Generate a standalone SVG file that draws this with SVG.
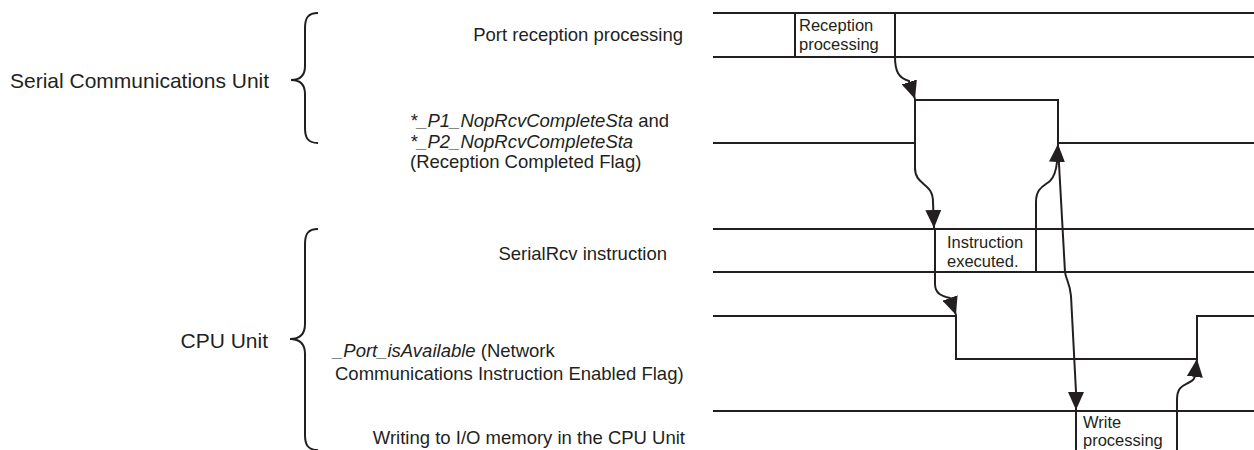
<svg xmlns="http://www.w3.org/2000/svg" width="1254" height="450" viewBox="0 0 1254 450">
<style>
text{font-family:"Liberation Sans",Arial,Helvetica,sans-serif;fill:#231f20;font-size:18.5px}
.big{font-size:21px}
.it{font-style:italic}
.bx{font-size:16.5px}
.ln{fill:none;stroke:#231f20;stroke-width:2}
.br{fill:none;stroke:#231f20;stroke-width:2}
.ar{fill:none;stroke:#231f20;stroke-width:2;marker-end:url(#ah)}
</style>
<defs>
<marker id="ah" viewBox="0 0 18 16" refX="18" refY="8" markerWidth="18" markerHeight="16" markerUnits="userSpaceOnUse" orient="auto">
<path d="M0,0 L18,8 L0,16 z" fill="#231f20"/>
</marker>
</defs>
<g id="unit-serial">
<text class="big" x="10" y="88">Serial Communications Unit</text>
<path class="br" d="M318,13 C308,13 305,18 305,28 L305,66 C305,76 300,80 291,80 C300,80 305,84 305,94 L305,128 C305,138 308,143 318,143"/>
</g>
<g id="unit-cpu">
<text class="big" x="268" y="348" text-anchor="end">CPU Unit</text>
<path class="br" d="M318,229 C308,229 305,234 305,244 L305,324 C305,334 300,339 290,339 C300,339 305,344 305,354 L305,435 C305,445 308,450 318,450"/>
</g>
<g id="row-port">
<text x="683" y="41" text-anchor="end">Port reception processing</text>
<path class="ln" d="M713,13 H1254 M713,57 H1254 M795,13 V57 M895,13 V57"/>
<text class="bx" x="799" y="31">Reception</text>
<text class="bx" x="799" y="50">processing</text>
</g>
<g id="row-flag">
<text x="410" y="127"><tspan class="it">*_P1_NopRcvCompleteSta</tspan> and</text>
<text x="410" y="148" class="it">*_P2_NopRcvCompleteSta</text>
<text x="410" y="168">(Reception Completed Flag)</text>
<path class="ln" d="M713,143 H915 V100 H1058 V143 H1254"/>
</g>
<g id="row-serialrcv">
<text x="667" y="260" text-anchor="end">SerialRcv instruction</text>
<path class="ln" d="M713,229 H1254 M713,272 H1254 M935,229 V272 M1036,229 V272"/>
<text class="bx" x="947" y="248">Instruction</text>
<text class="bx" x="947" y="267">executed.</text>
</g>
<g id="row-available">
<text x="333" y="357"><tspan class="it">_Port_isAvailable</tspan> (Network</text>
<text x="335" y="380">Communications Instruction Enabled Flag)</text>
<path class="ln" d="M713,316 H956 V359 H1197 V316 H1254"/>
</g>
<g id="row-write">
<text x="685" y="444" text-anchor="end">Writing to I/O memory in the CPU Unit</text>
<path class="ln" d="M713,411 H1254 M1076,411 V452 M1177,411 V452"/>
<text class="bx" x="1083" y="428">Write</text>
<text class="bx" x="1083" y="446">processing</text>
</g>
<g id="connectors">
<path class="ar" d="M895,57 C895,72 899,78 909,81 L915,99"/>
<path class="ar" d="M915,143 L915,168 C915,186 933,182 933,202 L934,228"/>
<path class="ar" d="M935,272 L935,284 C935,294 942,296 950,298 L956,315"/>
<path class="ar" d="M1036,229 L1036,202 C1036,188 1044,186 1050,181 C1054,177 1056,172 1057,162 L1058,144"/>
<path class="ar" d="M1058,146 L1065,272 C1066,280 1070,283 1071,296 L1076,392 L1076,410"/>
<path class="ar" d="M1177,450 L1177,400 C1177,388 1182,386 1188,383 C1192,381 1194,380 1195,376 L1197,359"/>
</g>
</svg>
